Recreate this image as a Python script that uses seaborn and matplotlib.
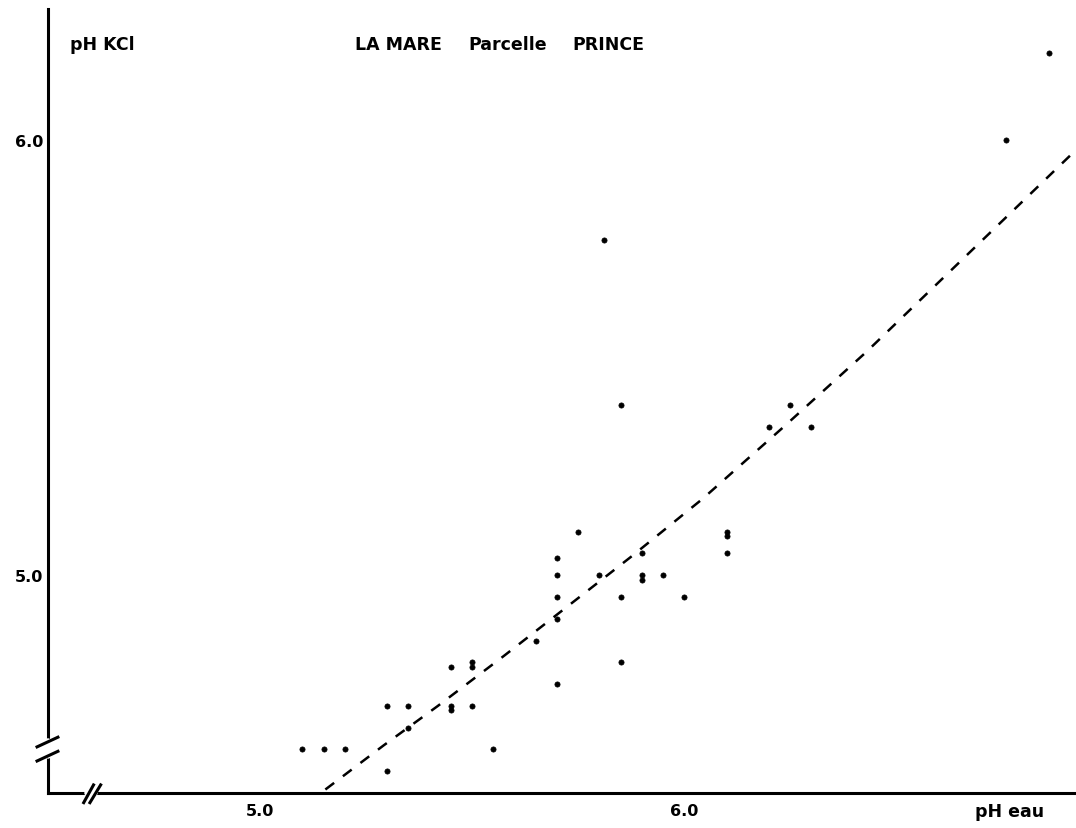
import matplotlib
matplotlib.use("Agg")
import matplotlib.pyplot as plt
import seaborn as sns
import pandas as pd

# --- data ---
ph_eau = [5.10, 5.15, 5.20, 5.30, 5.35, 5.35, 5.30, 5.45, 5.50, 5.50,
          5.45, 5.45, 5.50, 5.55, 5.70, 5.70, 5.70, 5.70, 5.65, 5.70,
          5.75, 5.85, 5.80, 5.90, 5.90, 5.90, 5.95, 5.85, 6.00, 6.10,
          6.10, 6.10, 6.25, 6.20, 6.30, 6.86, 6.76, 5.81, 5.85]
ph_kcl = [4.60, 4.60, 4.60, 4.70, 4.70, 4.65, 4.55, 4.79, 4.80, 4.79,
          4.70, 4.69, 4.70, 4.60, 5.04, 5.00, 4.95, 4.90, 4.85, 4.75,
          5.10, 4.80, 5.00, 5.05, 5.00, 4.99, 5.00, 4.95, 4.95, 5.10,
          5.09, 5.05, 5.39, 5.34, 5.34, 6.20, 6.00, 5.77, 5.39]

curve_x = [5.154, 5.291, 5.418, 5.574, 5.735, 5.877, 6.043, 6.234, 6.430, 6.915]
curve_y = [4.508, 4.609, 4.699, 4.814, 4.936, 5.044, 5.175, 5.340, 5.513, 5.968]

x_ticks = [5.0, 5.5, 6.0, 6.5]
x_ticklabels = ["5.0", "", "6.0", ""]
y_ticks = [5.0, 5.5, 6.0]
y_ticklabels = ["5.0", "", "6.0"]

title_words = ["LA MARE", "Parcelle", "PRINCE"]
xlabel = "pH eau"
ylabel = "pH KCl"

sns.set_style("white")
plt.rcParams['font.family'] = ['DejaVu Sans']
plt.rcParams['text.color'] = 'black'
plt.rcParams['xtick.color'] = 'black'
plt.rcParams['ytick.color'] = 'black'

W, H = 1076, 829
fig = plt.figure(figsize=(W / 100, H / 100), dpi=100)
ax = fig.add_axes([48 / W, 35 / H, 1 - 48 / W, (794 - 10) / H])

pts = pd.DataFrame({"x": ph_eau, "y": ph_kcl})
sns.scatterplot(data=pts, x="x", y="y", ax=ax, color="black", s=14,
                edgecolor="black", linewidth=0.5, zorder=3)

cur = pd.DataFrame({"x": curve_x, "y": curve_y})
sns.lineplot(data=cur, x="x", y="y", ax=ax, color="black", linewidth=1.8,
             linestyle=(0, (4.4, 4.4)), sort=False, estimator=None)

ax.set_xlim(4.5, 6.924)
ax.set_ylim(4.5, 6.30)
ax.set_xticks(x_ticks)
ax.set_xticklabels(x_ticklabels)
ax.set_yticks(y_ticks)
ax.set_yticklabels(y_ticklabels)
ax.set_xlabel("")
ax.set_ylabel("")

for s in ["top", "right"]:
    ax.spines[s].set_visible(False)
for s in ["left", "bottom"]:
    ax.spines[s].set_color("black")
    ax.spines[s].set_linewidth(2.2)

ax.tick_params(axis="both", direction="inout", length=7, width=2,
               color="black", labelcolor="black", labelsize=11.5, pad=2)
for lab in ax.get_xticklabels() + ax.get_yticklabels():
    lab.set_fontweight("bold")
ax.tick_params(axis="x", pad=4)
ax.tick_params(axis="y", pad=0)

# axis break marks
kw = dict(transform=ax.transAxes, color="black", lw=2.2, clip_on=False,
          solid_capstyle="butt")
ax.plot([0, 0], [0.047, 0.066], transform=ax.transAxes, color="white",
        lw=4, clip_on=False, zorder=5)
ax.plot([-0.012, 0.011], [0.040, 0.054], zorder=6, **kw)
ax.plot([-0.012, 0.011], [0.058, 0.072], zorder=6, **kw)
ax.plot([0.038, 0.046], [0, 0], transform=ax.transAxes, color="white",
        lw=4, clip_on=False, zorder=5)
ax.plot([0.034, 0.045], [-0.014, 0.012], zorder=6, **kw)
ax.plot([0.040, 0.052], [-0.014, 0.012], zorder=6, **kw)

tkw = dict(fontsize=12.5, fontweight="bold", va="center", ha="left",
           color="black")
fig.text(70 / W, 1 - 45 / H, ylabel, **tkw)
for word, px in zip(title_words, [355, 468, 572]):
    fig.text(px / W, 1 - 45 / H, word, **tkw)
fig.text(975 / W, 1 - 812 / H, xlabel, **tkw)

fig.savefig("out.png", dpi=100, facecolor="white")
